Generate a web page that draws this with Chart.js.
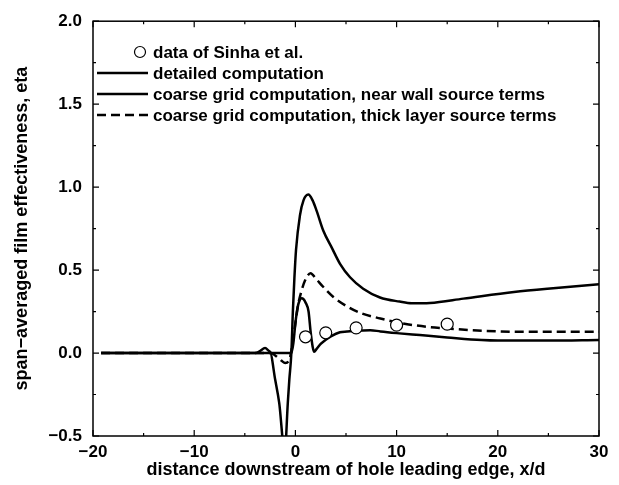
<!DOCTYPE html>
<html>
<head>
<meta charset="utf-8">
<script src="https://cdn.jsdelivr.net/npm/chart.js@4.4.1/dist/chart.umd.min.js"></script>
<style>
  body { margin: 0; background: #fff; }
  canvas { display: block; }
</style>
</head>
<body>
<canvas id="eta" width="619" height="485"></canvas>
<script>
const xTickValues = [-20, -10, 0, 10, 20, 30];
const xTickLabels = ['−20', '−10', '0', '10', '20', '30'];
const xMinorTicks = [-15, -5, 5, 15, 25];
const yTickValues = [-0.5, 0, 0.5, 1, 1.5, 2];
const yTickLabels = ['−0.5', '0.0', '0.5', '1.0', '1.5', '2.0'];
const yMinorTicks = [-0.25, 0.25, 0.75, 1.25, 1.75];

const seriesLabels = [
    'data of Sinha et al.',
    'detailed computation',
    'coarse grid computation, near wall source terms',
    'coarse grid computation, thick layer source terms'
];

const sinhaX = [1, 3, 6, 10, 15];
const sinhaY = [0.098, 0.122, 0.152, 0.168, 0.174];

const detailedX = [-19.2, -3.9, -3.5, -3.0, -2.6, -2.3, -0.4, -0.2, 0.0, 0.2, 0.4, 0.6, 0.8, 1.0, 1.3, 1.5, 1.7, 1.85, 2.1, 2.5, 3.0, 3.5, 4.4, 5.1, 6.0, 7.4, 8.4, 10.0, 12.3, 15.0, 18.4, 20.0, 25.0, 30.0];
const detailedY = [0, 0, 0.012, 0.03, 0.012, 0, 0, 0.06, 0.18, 0.27, 0.315, 0.33, 0.325, 0.305, 0.25, 0.13, 0.04, 0.008, 0.025, 0.055, 0.08, 0.1, 0.125, 0.13, 0.135, 0.138, 0.13, 0.12, 0.108, 0.094, 0.078, 0.075, 0.075, 0.078];

const nearWallX = [-19.2, -2.5, -2.0, -1.6, -1.05, -0.75, -0.6, -0.4, -0.25, -0.1, 0.06, 0.45, 0.8, 1.28, 1.7, 2.1, 2.76, 3.58, 4.41, 5.4, 6.7, 8.36, 10.3, 11.5, 13.3, 16.6, 21.6, 24.9, 30];
const nearWallY = [0, 0, -0.16, -0.3, -0.6, -0.3, -0.16, 0, 0.25, 0.45, 0.62, 0.83, 0.92, 0.955, 0.92, 0.857, 0.737, 0.637, 0.538, 0.457, 0.388, 0.335, 0.31, 0.3, 0.302, 0.328, 0.368, 0.388, 0.414];

const thickLayerX = [-19.2, -2.4, -1.9, -1.4, -1.0, -0.6, -0.3, 0.0, 0.3, 0.62, 0.95, 1.5, 2.0, 2.76, 3.75, 5.2, 6.5, 8.4, 10.0, 11.7, 13.3, 15.0, 18.4, 23.3, 30];
const thickLayerY = [0, 0, -0.02, -0.045, -0.06, -0.04, 0.05, 0.18, 0.3, 0.378, 0.437, 0.481, 0.45, 0.398, 0.338, 0.278, 0.24, 0.208, 0.185, 0.168, 0.156, 0.148, 0.134, 0.128, 0.128];

const FAMILY = '"Liberation Sans", Arial, sans-serif';

const toPoints = (xs, ys) => xs.map((x, i) => ({ x: x, y: ys[i] }));

const curve = (label, xs, ys, dash) => ({
    label: label,
    data: toPoints(xs, ys),
    showLine: true,
    borderColor: '#000',
    borderWidth: 2.5,
    borderDash: dash,
    pointRadius: 0,
    cubicInterpolationMode: 'monotone',
    fill: false
});

const chartData = {
    datasets: [
        {
            label: seriesLabels[0],
            data: toPoints(sinhaX, sinhaY),
            showLine: false,
            pointRadius: 6,
            pointBorderWidth: 1.2,
            pointBorderColor: '#000',
            pointBackgroundColor: '#fff'
        },
        curve(seriesLabels[1], detailedX, detailedY, []),
        curve(seriesLabels[2], nearWallX, nearWallY, []),
        curve(seriesLabels[3], thickLayerX, thickLayerY, [9, 5])
    ]
};

// box, inward ticks and the legend inside the plot
const framePlugin = {
    id: 'frame',
    afterDraw(chart) {
        const c = chart.ctx;
        const a = chart.chartArea;
        const sx = chart.scales.x;
        const sy = chart.scales.y;
        c.save();
        c.strokeStyle = '#000';
        c.lineWidth = 1.5;
        c.strokeRect(a.left, a.top, a.right - a.left, a.bottom - a.top);

        c.lineWidth = 1.2;
        const xTick = (v, len) => {
            const px = sx.getPixelForValue(v);
            c.beginPath();
            c.moveTo(px, a.bottom); c.lineTo(px, a.bottom - len);
            c.moveTo(px, a.top); c.lineTo(px, a.top + len);
            c.stroke();
        };
        const yTick = (v, len) => {
            const py = sy.getPixelForValue(v);
            c.beginPath();
            c.moveTo(a.left, py); c.lineTo(a.left + len, py);
            c.moveTo(a.right, py); c.lineTo(a.right - len, py);
            c.stroke();
        };
        xTickValues.forEach(v => xTick(v, 6));
        xMinorTicks.forEach(v => xTick(v, 3));
        yTickValues.forEach(v => yTick(v, 6));
        yMinorTicks.forEach(v => yTick(v, 3));

        c.font = 'bold 17px ' + FAMILY;
        c.fillStyle = '#000';
        c.textBaseline = 'middle';
        const rows = [52, 73, 94, 115];
        const textX = 153;
        chart.data.datasets.forEach((ds, i) => {
            const y = rows[i];
            if (i === 0) {
                c.lineWidth = 1.2;
                c.beginPath();
                c.arc(140, y, 5.5, 0, Math.PI * 2);
                c.stroke();
            } else {
                c.lineWidth = 2.5;
                c.setLineDash(ds.borderDash || []);
                c.beginPath();
                c.moveTo(97, y); c.lineTo(148, y);
                c.stroke();
                c.setLineDash([]);
            }
            c.fillText(ds.label, textX, y + 1);
        });
        c.restore();
    }
};

Chart.defaults.color = '#000';

new Chart(document.getElementById('eta'), {
    type: 'scatter',
    data: chartData,
    options: {
        responsive: false,
        animation: false,
        layout: { padding: { top: 19, right: 20, left: 0, bottom: 0 } },
        plugins: { legend: { display: false }, tooltip: { enabled: false } },
        scales: {
            x: {
                type: 'linear',
                min: -20,
                max: 30,
                afterBuildTicks: s => { s.ticks = xTickValues.map(v => ({ value: v })); },
                afterFit: s => { s.height = 49; },
                grid: { display: false, drawTicks: false },
                border: { display: false },
                ticks: {
                    padding: 6,
                    maxRotation: 0,
                    font: { family: FAMILY, size: 17, weight: 'bold' },
                    callback: v => xTickLabels[xTickValues.indexOf(v)]
                },
                title: {
                    display: true,
                    text: 'distance downstream of hole leading edge, x/d',
                    font: { family: FAMILY, size: 18, weight: 'bold' },
                    padding: { top: 0, bottom: 4 }
                }
            },
            y: {
                type: 'linear',
                min: -0.5,
                max: 2,
                afterBuildTicks: s => { s.ticks = yTickValues.map(v => ({ value: v })); },
                afterFit: s => { s.width = 93; },
                grid: { display: false, drawTicks: false },
                border: { display: false },
                ticks: {
                    padding: 11,
                    font: { family: FAMILY, size: 17, weight: 'bold' },
                    callback: v => yTickLabels[yTickValues.indexOf(v)]
                },
                title: {
                    display: true,
                    text: 'span−averaged film effectiveness, eta',
                    font: { family: FAMILY, size: 18, weight: 'bold' },
                    padding: { top: 11, bottom: 0 }
                }
            }
        }
    },
    plugins: [framePlugin]
});
</script>
</body>
</html>
